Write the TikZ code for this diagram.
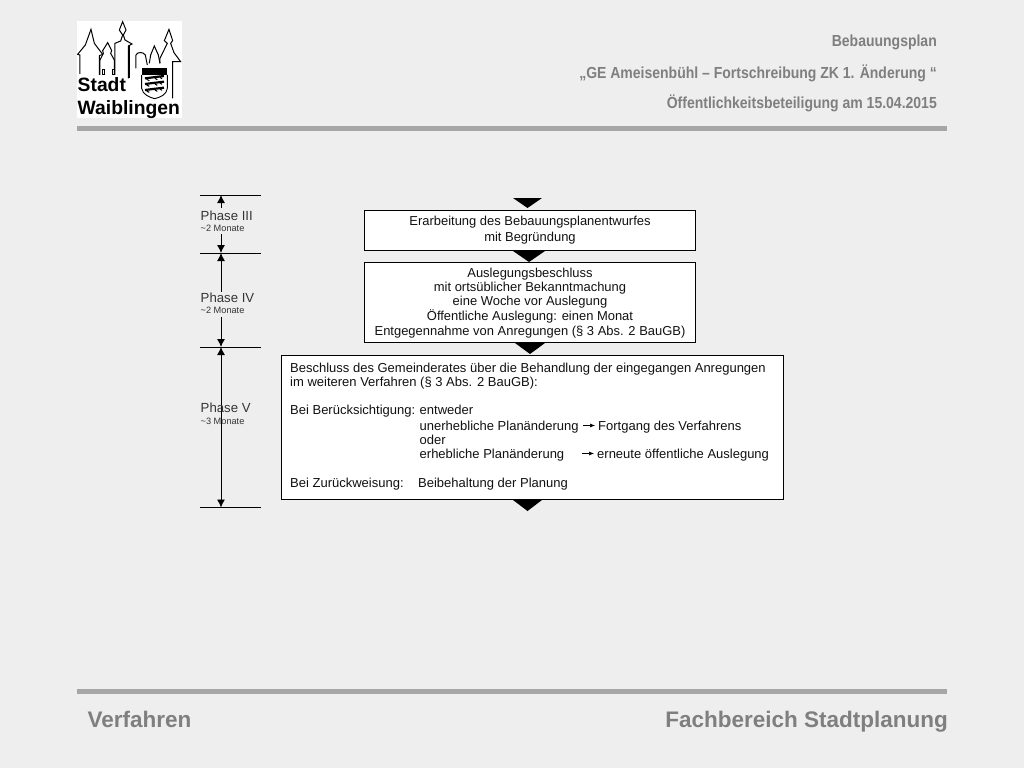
\documentclass[tikz,border=0pt]{standalone}
\usepackage{fontspec}
\setmainfont{Liberation Sans}
\newfontfamily\narrowfont[FakeStretch=0.875]{Liberation Sans}
\usetikzlibrary{arrows.meta}
\definecolor{bgc}{HTML}{EEEEEE}
\definecolor{barc}{HTML}{A6A6A6}
\definecolor{headc}{HTML}{7F7F7F}
\definecolor{inkc}{HTML}{111111}
\tikzset{
  x=1pt,y=-1pt,
  hdr/.style={anchor=east,inner sep=0pt,text=headc,font=\narrowfont\bfseries\fontsize{16}{16}\selectfont},
  foot/.style={anchor=base,inner sep=0pt,text=headc,font=\bfseries\fontsize{22.5}{22}\selectfont},
  flowbox/.style={draw=black,line width=1pt,fill=white,inner sep=0pt,align=center,text=inkc,font=\fontsize{12.95}{14.1}\selectfont},
  line1/.style={anchor=base west,inner sep=0pt,text=inkc,font=\fontsize{13}{14}\selectfont},
  phase/.style={anchor=base west,inner sep=0pt,text=inkc!85,font=\fontsize{13.2}{14}\selectfont},
  months/.style={anchor=base west,inner sep=0pt,text=inkc!85,font=\fontsize{9.2}{10}\selectfont},
  tick/.style={line width=0.9pt,black},
  dim/.style={line width=0.9pt,black,{Latex[length=8pt,width=8pt]}-{Latex[length=8pt,width=8pt]}},
  tri/.style={fill=black,draw=none},
  castle/.style={line width=1pt,black,line join=miter,fill=none},
  logotext/.style={anchor=base west,inner sep=0pt,text=black,font=\bfseries\fontsize{19.3}{19}\selectfont},
}
\begin{document}
\begin{tikzpicture}
\useasboundingbox (0,0) rectangle (1024,768);
\fill[bgc] (0,0) rectangle (1024,768);
% logo
\fill[white] (77,21) rectangle (182,118);
\begin{scope}[shift={(60,10)},x=0.3333pt,y=-0.3333pt]
 \draw[castle] (60,192) -- (60,135) -- (53,133) -- (76,105) -- (93,58) -- (103,100) -- (128,133) -- (118,137) -- (118,195);
 \draw[castle] (120,195) -- (120,150) -- (130,130) -- (128,122) -- (143,98) -- (155,122) -- (152,130) -- (163,150) -- (163,195);
 \draw[castle] (127,180) rectangle (133,195) (157,180) rectangle (165,195);
 \draw[castle] (165,195) -- (165,100) -- (182,93) -- (188,75) -- (178,60) -- (188,35) -- (198,60) -- (190,75) -- (195,90) -- (216,102) -- (205,108) -- (205,205);
 \draw[castle] (210,108) -- (210,205);
 \draw[castle] (228,175) -- (228,135) .. controls (232,125) and (250,125) .. (256,135) -- (262,165);
 \draw[castle] (268,160) -- (272,135) -- (283,108) -- (295,135) -- (300,160);
 \draw[castle] (300,160) -- (300,145) -- (322,100) -- (313,92) -- (327,58) -- (338,92) -- (332,100) -- (342,128) -- (362,155) -- (338,155) -- (338,265);
 \fill[black] (245,175) rectangle (322,195);
 \draw[black,line width=0.9pt] (245,195) -- (245,235) .. controls (248,255) and (270,262) .. (284,266) .. controls (300,262) and (320,255) .. (322,235) -- (322,195);
 \foreach \yy in {205,222,240}{
   \draw[black,line width=2.2pt] (255,\yy) -- (312,\yy-7);
   \draw[black,line width=1.1pt] (260,\yy+3) -- (268,\yy+7) (285,\yy) -- (292,\yy+4) (300,\yy-3) -- (306,\yy+1);
 }
\end{scope}
\node[logotext] (stadt) at (77.5,91) {Stadt};
\node[logotext] (waib) at (77.5,114) {Waiblingen};
% header
\node[hdr] (h1) at (937,42.5) {Bebauungsplan};
\node[hdr] (h2) at (937,73) {„GE Ameisenbühl – Fortschreibung ZK 1. Änderung “};
\node[hdr] (h3) at (937,103) {Öffentlichkeitsbeteiligung am 15.04.2015};
\fill[barc] (77,125.5) rectangle (947,130.5);
% footer
\fill[barc] (77,688.5) rectangle (947,693.5);
\node[foot,anchor=base west] (fl) at (87.5,727) {Verfahren};
\node[foot,anchor=base east] (fr) at (948,727) {Fachbereich Stadtplanung};
% triangles
\fill[tri] (513,198) -- (542,198) -- (527.5,208) -- cycle;
\node[flowbox,minimum width=331pt,minimum height=40.5pt,anchor=north west] (b1) at (364,209.5) {Erarbeitung des Bebauungsplanentwurfes\\[1.5pt]mit Begründung};
\fill[tri] (513,251) -- (545,251) -- (529,262) -- cycle;
\node[flowbox,minimum width=331pt,minimum height=80pt,anchor=north west] (b2) at (364,261.5) {\rule{0pt}{11.5pt}Auslegungsbeschluss\\mit ortsüblicher Bekanntmachung\\eine Woche vor Auslegung\\Öffentliche Auslegung: einen Monat\\[1pt]Entgegennahme von Anregungen (§ 3 Abs. 2 BauGB)};
\fill[tri] (515,343) -- (545,343) -- (530,354) -- cycle;
\node[flowbox,minimum width=501.5pt,minimum height=144.5pt,anchor=north west] (b3) at (281,354.7) {};
\fill[tri] (513,500) -- (542,500) -- (527.5,511) -- cycle;
% box 3 lines
\node[line1] (t1) at (290,372) {Beschluss des Gemeinderates über die Behandlung der eingegangen Anregungen};
\node[line1] (t2) at (290,386) {im weiteren Verfahren (§ 3 Abs. 2 BauGB):};
\node[line1] (t3) at (290,414) {Bei Berücksichtigung:};
\node[line1] (t3b) at (419.5,414) {entweder};
\node[line1] (t4) at (419.5,430) {unerhebliche Planänderung};
\node[line1] (t5) at (419.5,444) {oder};
\node[line1] (t6) at (419.5,458) {erhebliche Planänderung};
\node[line1] (t7) at (290,487) {Bei Zurückweisung:};
\node[line1] (t8) at (418,487) {Beibehaltung der Planung};
\node[line1] (t9) at (598,430) {Fortgang des Verfahrens};
\node[line1] (t10) at (597,458) {erneute öffentliche Auslegung};
\coordinate (a1s) at (583,425.5); \coordinate (a1e) at (595,425.5);
\coordinate (a2s) at (582,453.5); \coordinate (a2e) at (594,453.5);
\draw[line width=0.6pt,-{Latex[length=5pt,width=4pt]}] (a1s) -- (a1e);
\draw[line width=0.6pt,-{Latex[length=5pt,width=4pt]}] (a2s) -- (a2e);
% ticks
\coordinate (ta) at (221,195); \coordinate (tb) at (221,253); \coordinate (tc) at (221,347); \coordinate (td) at (221,507.5);
\draw[tick] (200,195) -- (261,195);
\draw[tick] (200,253) -- (261,253);
\draw[tick] (200,347) -- (261,347);
\draw[tick] (200,507.5) -- (261,507.5);
\draw[dim] (ta) -- (tb);
\draw[dim] (tb) -- (tc);
\draw[dim] (tc) -- (td);
% phase labels
\fill[bgc] (200,208) rectangle (255,234);
\fill[bgc] (200,292) rectangle (255,317);
\node[phase] (p3) at (200.5,220) {Phase III};
\node[months] (m3) at (200.5,231) {\textasciitilde 2 Monate};
\node[phase] (p4) at (200.5,302) {Phase IV};
\node[months] (m4) at (200.5,313) {\textasciitilde 2 Monate};
\node[phase] (p5) at (200.5,412.5) {Phase V};
\node[months] (m5) at (200.5,424) {\textasciitilde 3 Monate};
\end{tikzpicture}
\end{document}
